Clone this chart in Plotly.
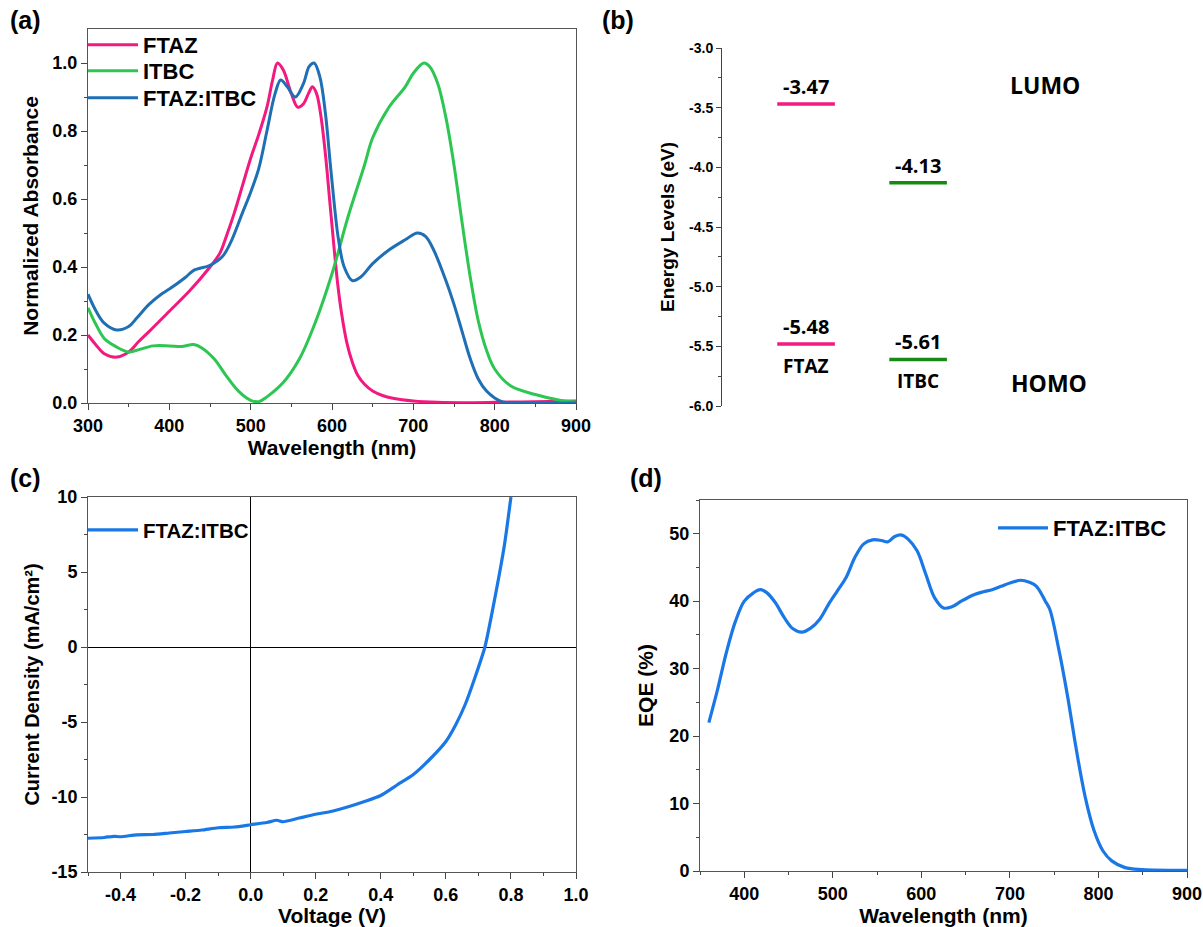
import plotly.graph_objects as go

# ---------------- data ----------------
# (a) normalized absorbance
wl_ftaz = [300, 310, 320, 335, 350, 362, 375, 400, 425, 450, 462, 470, 480, 490, 500, 510, 520, 527, 533, 540, 550, 558, 565, 571, 576, 581, 586, 592, 597, 602, 607, 612, 618, 625, 632, 640, 650, 662, 675, 700, 730, 760, 800, 850, 900]
abs_ftaz = [0.20, 0.17, 0.145, 0.135, 0.15, 0.18, 0.21, 0.27, 0.33, 0.40, 0.44, 0.49, 0.56, 0.64, 0.72, 0.79, 0.87, 0.95, 1.00, 0.98, 0.91, 0.87, 0.88, 0.91, 0.93, 0.91, 0.85, 0.73, 0.60, 0.47, 0.35, 0.26, 0.18, 0.12, 0.08, 0.055, 0.035, 0.022, 0.014, 0.006, 0.002, 0.001, 0.002, 0.004, 0.006]

wl_itbc = [300, 310, 320, 335, 350, 360, 380, 400, 415, 430, 440, 455, 470, 485, 500, 510, 520, 540, 560, 580, 600, 620, 640, 650, 670, 690, 700, 713, 720, 730, 740, 750, 760, 770, 780, 790, 800, 820, 850, 880, 900]
abs_itbc = [0.28, 0.23, 0.19, 0.165, 0.15, 0.155, 0.168, 0.168, 0.166, 0.172, 0.162, 0.13, 0.08, 0.035, 0.008, 0.004, 0.018, 0.06, 0.13, 0.24, 0.38, 0.55, 0.70, 0.78, 0.87, 0.93, 0.97, 1.00, 0.99, 0.94, 0.84, 0.70, 0.53, 0.37, 0.24, 0.155, 0.10, 0.05, 0.025, 0.008, 0.003]

wl_blend = [300, 310, 320, 335, 350, 360, 375, 390, 400, 420, 430, 450, 465, 475, 490, 500, 510, 520, 530, 537, 545, 555, 565, 572, 578, 585, 592, 598, 603, 608, 615, 625, 635, 650, 670, 690, 705, 715, 725, 740, 750, 760, 770, 780, 790, 800, 810, 830, 900]
abs_blend = [0.32, 0.27, 0.235, 0.215, 0.225, 0.25, 0.29, 0.32, 0.335, 0.37, 0.39, 0.405, 0.43, 0.47, 0.56, 0.62, 0.69, 0.80, 0.91, 0.95, 0.93, 0.90, 0.94, 0.99, 1.00, 0.96, 0.85, 0.70, 0.58, 0.48, 0.40, 0.36, 0.37, 0.41, 0.45, 0.48, 0.50, 0.49, 0.45, 0.36, 0.29, 0.21, 0.13, 0.07, 0.035, 0.015, 0.003, 0.0, 0.0]

# (b) energy levels
materials = ["FTAZ", "ITBC"]
lumo = [-3.47, -4.13]
homo = [-5.48, -5.61]
e_ticks = [-3.0, -3.5, -4.0, -4.5, -5.0, -5.5, -6.0]

# (c) J-V curve
voltage = [-0.50, -0.45, -0.42, -0.40, -0.35, -0.30, -0.25, -0.20, -0.15, -0.10, -0.05, 0.00, 0.05, 0.08, 0.10, 0.15, 0.20, 0.25, 0.30, 0.35, 0.40, 0.45, 0.50, 0.55, 0.60, 0.63, 0.66, 0.69, 0.72, 0.75, 0.78, 0.80]
current = [-12.75, -12.70, -12.62, -12.65, -12.52, -12.50, -12.40, -12.30, -12.20, -12.05, -12.00, -11.85, -11.70, -11.55, -11.65, -11.40, -11.15, -10.95, -10.65, -10.30, -9.90, -9.20, -8.50, -7.50, -6.30, -5.20, -3.80, -2.00, 0.00, 3.20, 6.80, 10.00]
v_ticks = [-0.4, -0.2, 0.0, 0.2, 0.4, 0.6, 0.8, 1.0]
j_ticks = [-15, -10, -5, 0, 5, 10]

# (d) EQE
wl_eqe = [360, 370, 380, 390, 400, 410, 418, 425, 435, 445, 455, 465, 475, 485, 495, 505, 515, 525, 535, 545, 555, 562, 570, 578, 585, 595, 605, 615, 625, 635, 645, 660, 670, 680, 690, 700, 712, 722, 730, 740, 745, 755, 765, 775, 785, 795, 805, 815, 830, 850, 900]
eqe = [22.0, 27.0, 32.5, 37.0, 40.0, 41.2, 41.7, 41.3, 39.8, 37.6, 35.9, 35.4, 36.0, 37.3, 39.5, 41.5, 43.5, 46.5, 48.5, 49.1, 49.0, 48.8, 49.6, 49.8, 49.2, 47.5, 44.0, 40.5, 39.0, 39.2, 40.0, 41.0, 41.4, 41.7, 42.2, 42.7, 43.1, 42.8, 42.2, 40.0, 38.8, 33.0, 26.0, 18.0, 11.0, 6.0, 3.0, 1.5, 0.5, 0.2, 0.1]

# ---------------- styling ----------------
W, H = 1203, 927
FONT = "Liberation Sans"
PINK = "#F2197F"
GREEN = "#2DC653"
BLUE = "#1F6FB5"
BRIGHT = "#1A78E6"
DKGREEN = "#158A15"

def xd(a, b):
    return [a / W, b / W]

def yd(top, bottom):
    return [1 - bottom / H, 1 - top / H]

def fmt(v, nd):
    return f"{v:.{nd}f}"

fig = go.Figure()
fig.add_trace(go.Scatter(x=wl_ftaz, y=abs_ftaz, name="FTAZ", mode="lines", line=dict(color=PINK, width=3, shape="spline"), xaxis="x", yaxis="y", legend="legend"))
fig.add_trace(go.Scatter(x=wl_itbc, y=abs_itbc, name="ITBC", mode="lines", line=dict(color=GREEN, width=3, shape="spline"), xaxis="x", yaxis="y", legend="legend4"))
fig.add_trace(go.Scatter(x=wl_blend, y=abs_blend, name="FTAZ:ITBC", mode="lines", line=dict(color=BLUE, width=3, shape="spline"), xaxis="x", yaxis="y", legend="legend5"))

# (b) level bars
centers = [1.89, 4.38]
half = 0.64
level_colors = [PINK, DKGREEN]
for i, m in enumerate(materials):
    for val in (lumo[i], homo[i]):
        fig.add_trace(go.Scatter(x=[centers[i] - half, centers[i] + half], y=[val, val], mode="lines",
                                 line=dict(color=level_colors[i], width=3.5), showlegend=False,
                                 xaxis="x2", yaxis="y2"))

fig.add_trace(go.Scatter(x=voltage, y=current, name="FTAZ:ITBC", mode="lines", line=dict(color=BRIGHT, width=3.2, shape="spline", smoothing=0.6), xaxis="x3", yaxis="y3", legend="legend2"))
fig.add_trace(go.Scatter(x=wl_eqe, y=eqe, name="FTAZ:ITBC", mode="lines", line=dict(color=BRIGHT, width=3.2, shape="spline"), xaxis="x4", yaxis="y4", legend="legend3"))

tickf = dict(family=FONT, size=18, color="black", weight="bold")
titlef = dict(family=FONT, size=21, color="black", weight="bold")

def box_axis(**kw):
    d = dict(showline=True, linecolor="#555", linewidth=1, mirror=True, ticks="outside", ticklen=6,
             tickcolor="#444", tickfont=tickf, title_font=titlef, showgrid=False, zeroline=False,
             automargin=False)
    d.update(kw)
    return d

annotations = []
for lab, (px, py) in zip(["(a)", "(b)", "(c)", "(d)"], [(8, 20), (600, 20), (8, 478), (628, 478)]):
    annotations.append(dict(text=lab, x=px / W, y=1 - py / H, xref="paper", yref="paper", showarrow=False,
                            xanchor="left", yanchor="middle", font=dict(family=FONT, size=25, color="black", weight="bold")))

numf = dict(family="Open Sans", size=20, color="black", weight="bold")
for i, m in enumerate(materials):
    for val in (lumo[i], homo[i]):
        annotations.append(dict(text=fmt(val, 2), x=centers[i], y=val, xref="x2", yref="y2", showarrow=False,
                                yanchor="bottom", yshift=2, font=numf))
namef = dict(family="Open Sans", size=19, color="black", weight="bold")
for i in range(2):
    annotations.append(dict(text=materials[i], x=centers[i], y=homo[i], xref="x2", yref="y2", showarrow=False,
                            yanchor="top", yshift=-7, font=namef))
annotations.append(dict(text="LUMO", x=7.21, y=-3.31, xref="x2", yref="y2", showarrow=False,
                        font=dict(family="Open Sans", size=23, color="black", weight="bold")))
annotations.append(dict(text="HOMO", x=7.29, y=-5.81, xref="x2", yref="y2", showarrow=False,
                        font=dict(family="Open Sans", size=23, color="black", weight="bold")))

def leg(px, py, size):
    return dict(x=px / W, y=1 - py / H, xanchor="left", yanchor="middle", bgcolor="rgba(0,0,0,0)",
                font=dict(family=FONT, size=size, color="black", weight="bold"), itemwidth=50)

fig.update_layout(
    width=W, height=H, margin=dict(l=0, r=0, t=0, b=0, autoexpand=False),
    paper_bgcolor="white", plot_bgcolor="white",
    xaxis=box_axis(domain=xd(88, 576), range=[300, 900], dtick=100, tick0=300, anchor="y",
                   title=dict(text="Wavelength (nm)", standoff=0),
                   minor=dict(dtick=50, ticks="outside", ticklen=3, tickcolor="#444")),
    yaxis=box_axis(domain=yd(29, 403), range=[0, 1.1], tickvals=[0, 0.2, 0.4, 0.6, 0.8, 1.0],
                   ticktext=[fmt(v, 1) for v in [0, 0.2, 0.4, 0.6, 0.8, 1.0]], anchor="x",
                   title=dict(text="Normalized Absorbance", standoff=8),
                   minor=dict(tickvals=[0.1, 0.3, 0.5, 0.7, 0.9], ticks="outside", ticklen=3, tickcolor="#444")),
    xaxis2=dict(domain=xd(721, 1171), range=[0, 10], visible=False, anchor="y2"),
    yaxis2=dict(domain=yd(48, 406), range=[-6.0, -3.0], anchor="free", position=721 / W, showline=True,
                linecolor="#444", linewidth=1, ticks="outside", ticklen=5, tickcolor="#444", showgrid=False,
                zeroline=False, tickvals=e_ticks, ticktext=[fmt(v, 1) for v in e_ticks], automargin=False,
                tickfont=dict(family="Liberation Sans Narrow, Liberation Sans", size=14, color="black", weight="bold"),
                title=dict(text="Energy Levels (eV)", font=dict(family=FONT, size=19, color="black", weight="bold"), standoff=8),
                minor=dict(dtick=0.25, ticks="outside", ticklen=3, tickcolor="#444")),
    xaxis3=box_axis(domain=xd(88, 576), range=[-0.5, 1.0], tickvals=v_ticks, ticktext=[fmt(v, 1) for v in v_ticks],
                    anchor="y3", zeroline=True, zerolinecolor="black", zerolinewidth=1,
                    title=dict(text="Voltage (V)", standoff=2),
                    minor=dict(dtick=0.1, ticks="outside", ticklen=3, tickcolor="#444")),
    yaxis3=box_axis(domain=yd(497, 872), range=[-15, 10], tickvals=j_ticks, ticktext=[str(v) for v in j_ticks],
                    anchor="x3", zeroline=True, zerolinecolor="black", zerolinewidth=1,
                    title=dict(text="Current Density (mA/cm²)", font=dict(family=FONT, size=20, color="black", weight="bold"), standoff=6),
                    minor=dict(dtick=2.5, ticks="outside", ticklen=3, tickcolor="#444")),
    xaxis4=box_axis(domain=xd(700, 1187), range=[350, 900], tickvals=[400, 500, 600, 700, 800, 900], anchor="y4",
                    title=dict(text="Wavelength (nm)", standoff=2),
                    minor=dict(dtick=50, tick0=350, ticks="outside", ticklen=3, tickcolor="#444")),
    yaxis4=box_axis(domain=yd(500, 871), range=[0, 55], dtick=10, anchor="x4",
                    title=dict(text="EQE (%)", standoff=10),
                    minor=dict(dtick=5, ticks="outside", ticklen=3, tickcolor="#444")),
    legend=leg(83, 45, 22),
    legend4=leg(83, 71, 22),
    legend5=leg(83, 98, 22),
    legend2=leg(83, 530, 20.5),
    legend3=leg(993, 528, 22),
    annotations=annotations,
)

fig.write_html("out.html", post_script="document.body.style.margin='0px';document.body.style.overflow='hidden';")
